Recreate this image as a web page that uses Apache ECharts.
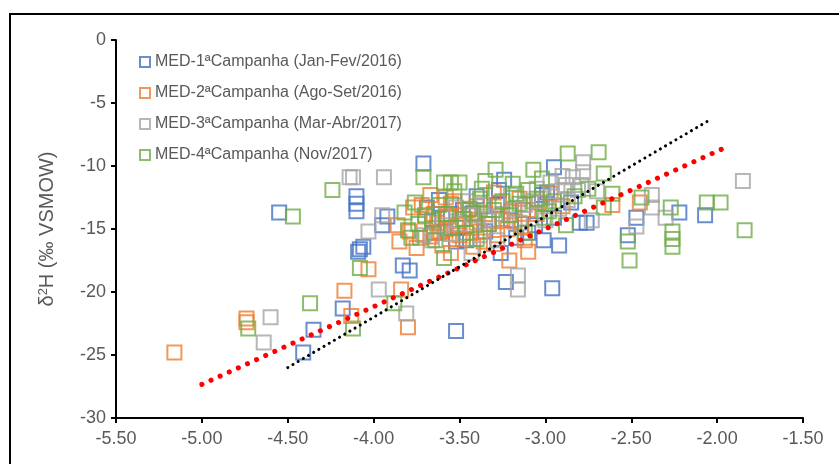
<!DOCTYPE html>
<html>
<head>
<meta charset="utf-8">
<script src="https://cdn.jsdelivr.net/npm/echarts@6/dist/echarts.min.js"></script>
<style>
  html, body { margin: 0; padding: 0; background: #fff; }
  #chart { width: 839px; height: 464px; }
</style>
</head>
<body>
<div id="chart"></div>
<script type="text/javascript">

var seriesNames = ['MED-1ªCampanha (Jan-Fev/2016)', 'MED-2ªCampanha (Ago-Set/2016)',
                   'MED-3ªCampanha (Mar-Abr/2017)', 'MED-4ªCampanha (Nov/2017)'];
var seriesColors = ['#4472C4', '#ED7D31', '#A5A5A5', '#70AD47'];

// [d18O, d2H]
var med1 = [[-4.55,-13.7],[-4.10,-12.4],[-4.10,-13.0],[-4.10,-13.6],[-4.08,-16.6],[-4.06,-16.4],[-4.09,-16.8],
  [-3.71,-9.8],[-3.83,-17.9],[-3.79,-18.3],[-4.18,-21.3],[-4.35,-23.0],[-4.41,-24.8],[-3.52,-23.1],[-2.96,-19.7],
  [-3.23,-19.2],[-3.01,-15.9],[-3.26,-16.9],[-2.47,-14.1],[-2.52,-15.5],[-2.22,-13.7],[-2.07,-13.9],[-2.95,-10.1],
  [-2.76,-14.5],[-3.92,-14.0],[-3.95,-14.7],[-3.69,-13.3],[-3.60,-14.1],[-3.51,-14.9],[-3.43,-13.8],[-3.35,-15.2],
  [-3.28,-13.1],[-3.20,-14.3],[-3.13,-13.5],[-3.02,-12.3],[-2.99,-12.1],[-2.95,-14.1],[-3.06,-14.7],[-3.46,-15.9],
  [-3.17,-15.7],[-3.27,-11.9],[-3.24,-11.1],[-3.52,-16.0],[-3.48,-13.5],[-2.92,-16.3],[-2.80,-14.5],[-3.00,-13.0],
  [-3.62,-12.7],[-3.40,-12.4],[-2.85,-12.9],[-3.55,-13.8],[-3.33,-14.3],[-3.10,-15.3],[-3.65,-15.3]];
var med2 = [[-5.16,-24.8],[-4.74,-22.1],[-4.74,-22.4],[-4.17,-19.9],[-4.13,-21.9],[-4.03,-18.2],[-3.84,-19.8],
  [-3.80,-22.8],[-3.86,-14.7],[-3.77,-13.3],[-3.21,-17.5],[-3.10,-16.8],[-2.61,-13.1],[-2.45,-12.9],[-3.67,-12.3],
  [-3.57,-14.0],[-3.61,-15.2],[-3.51,-14.7],[-3.67,-15.6],[-3.79,-15.2],[-3.30,-12.1],[-3.04,-12.9],[-3.40,-14.5],
  [-3.14,-14.9],[-3.12,-15.9],[-3.73,-15.7],[-3.62,-15.3],[-3.45,-13.5],[-3.35,-13.8],[-3.25,-14.2],[-3.55,-13.0],
  [-3.48,-15.8],[-3.38,-15.2],[-3.28,-15.5],[-3.20,-13.6],[-3.70,-14.0],[-3.60,-16.3],[-3.42,-16.4],[-3.33,-14.6],
  [-3.53,-12.8],[-3.65,-13.8],[-3.10,-13.5],[-2.97,-12.2],[-3.85,-16.0],[-3.58,-15.0],[-3.47,-14.2],[-3.22,-15.0],
  [-3.30,-16.2],[-2.90,-13.2],[-3.75,-16.5],[-3.15,-12.6],[-3.55,-16.9],[-3.63,-14.5],[-3.50,-15.5],[-3.44,-14.9],
  [-3.36,-16.0],[-3.18,-14.4],[-3.05,-13.8],[-3.72,-13.1],[-3.58,-12.5],[-3.27,-12.9],[-3.40,-13.2]];
var med3 = [[-4.60,-22.0],[-4.64,-24.0],[-3.97,-19.8],[-3.81,-21.7],[-4.03,-15.2],[-4.12,-10.9],[-4.14,-10.9],
  [-3.94,-10.9],[-3.95,-13.9],[-3.16,-18.7],[-3.16,-19.8],[-1.85,-11.2],[-2.30,-14.1],[-2.38,-13.3],[-2.47,-14.8],
  [-2.38,-12.3],[-2.73,-14.3],[-2.97,-11.3],[-2.90,-10.8],[-2.81,-11.9],[-2.87,-12.7],[-2.79,-11.5],[-2.78,-9.7],
  [-2.78,-10.5],[-2.84,-10.9],[-3.43,-13.9],[-3.37,-13.1],[-3.31,-14.3],[-3.20,-12.3],[-3.12,-13.1],[-3.66,-15.9],
  [-3.60,-14.7],[-3.52,-13.3],[-3.28,-15.9],[-3.43,-16.9],[-3.71,-15.5],[-3.05,-11.8],[-3.08,-12.8],[-2.92,-13.4],
  [-3.50,-14.6],[-3.15,-14.5],[-2.70,-12.0],[-2.88,-11.5],[-3.00,-14.3],[-3.25,-13.8],[-3.38,-15.5],[-3.55,-15.4],
  [-3.35,-14.0],[-3.18,-13.4],[-3.02,-12.6],[-2.93,-12.0],[-3.45,-12.8]];
var med4 = [[-4.24,-11.9],[-4.47,-14.0],[-4.37,-20.9],[-4.73,-22.9],[-4.12,-22.9],[-4.08,-18.1],[-3.88,-20.9],
  [-3.71,-10.9],[-1.84,-15.1],[-2.06,-12.9],[-1.98,-12.9],[-2.26,-15.2],[-2.26,-15.8],[-2.26,-16.4],[-2.27,-13.3],
  [-2.51,-17.5],[-2.52,-16.0],[-2.69,-8.9],[-2.87,-9.0],[-2.66,-10.6],[-2.61,-12.2],[-2.66,-13.3],[-2.44,-12.5],
  [-3.82,-13.7],[-3.80,-15.1],[-3.78,-15.7],[-3.59,-11.3],[-3.55,-11.3],[-3.50,-11.3],[-3.62,-13.1],[-3.64,-15.9],
  [-3.44,-13.4],[-3.29,-10.3],[-3.07,-10.3],[-3.37,-11.8],[-3.19,-11.4],[-3.42,-13.7],[-3.21,-13.9],[-3.01,-14.1],
  [-3.10,-11.9],[-2.88,-14.7],[-3.59,-17.3],[-3.70,-13.9],[-3.55,-14.9],[-3.46,-15.3],[-3.33,-14.6],[-3.25,-12.8],
  [-3.15,-13.0],[-3.38,-12.6],[-2.95,-12.8],[-2.75,-11.8],[-3.53,-12.0],[-3.12,-15.3],[-3.74,-14.6],[-3.48,-14.2],
  [-3.02,-11.0],[-3.66,-14.3],[-3.40,-15.8],[-3.30,-13.5],[-3.17,-12.2],[-3.05,-12.6],[-2.83,-12.4],[-3.58,-13.8],
  [-3.35,-11.2],[-2.98,-13.6],[-3.76,-12.9]];

// trend lines (end points)
var localLine = [[-5.0,-27.33],[-1.95,-8.52]];
var gmwl = [[-4.5,-26.0],[-2.03,-6.24]];

var chart = echarts.init(document.getElementById('chart'));

var allData = [med1, med2, med3, med4];
var series = [];
for (var i = 0; i < 4; i++) {
    series.push({
        name: seriesNames[i],
        type: 'scatter',
        symbol: 'rect',
        symbolSize: 14,
        itemStyle: {
            color: 'rgba(255,255,255,0)',
            borderColor: seriesColors[i],
            borderWidth: 2
        },
        emphasis: { disabled: true },
        data: allData[i]
    });
}
series.push({
    name: 'local',
    type: 'line',
    showSymbol: false,
    silent: true,
    lineStyle: { color: '#FF0000', width: 5, type: [0.1, 9.9], cap: 'round' },
    data: localLine
});
series.push({
    name: 'gmwl',
    type: 'line',
    showSymbol: false,
    silent: true,
    lineStyle: { color: '#000000', width: 3, type: [0.1, 5.9], cap: 'round' },
    data: gmwl
});

var option = {
    backgroundColor: '#ffffff',
    animation: false,
    textStyle: { fontFamily: 'Liberation Sans, Arial, sans-serif' },
    graphic: [{
        type: 'rect',
        shape: { x: 10, y: 14, width: 900, height: 500 },
        style: { fill: 'none', stroke: '#000', lineWidth: 2 }
    }],
    grid: { left: 116, right: 36, top: 40, bottom: 46, containLabel: false, outerBoundsMode: 'none' },
    legend: {
        data: seriesNames,
        orient: 'vertical',
        left: 134,
        top: 49,
        itemWidth: 10,
        itemHeight: 10,
        itemGap: 15,
        textStyle: { color: '#595959', fontSize: 16 }
    },
    xAxis: {
        type: 'value',
        min: -5.5,
        max: -1.5,
        interval: 0.5,
        name: 'δ{sup|18}O (‰ VSMOW)',
        nameLocation: 'middle',
        nameGap: 47,
        nameTextStyle: {
            color: '#595959', fontSize: 20,
            rich: { sup: { fontSize: 13, verticalAlign: 'top', color: '#595959' } }
        },
        axisLine: { onZero: false, lineStyle: { color: '#000', width: 2 } },
        axisTick: { show: true, length: 5, lineStyle: { color: '#000', width: 2 } },
        axisLabel: {
            color: '#595959', fontSize: 18, margin: 12,
            formatter: function (v) { return v.toFixed(2); }
        },
        splitLine: { show: false }
    },
    yAxis: {
        type: 'value',
        min: -30,
        max: 0,
        interval: 5,
        name: 'δ{sup|2}H (‰ VSMOW)',
        nameLocation: 'middle',
        nameGap: 59,
        nameTextStyle: {
            color: '#595959', fontSize: 20,
            rich: { sup: { fontSize: 13, verticalAlign: 'top', color: '#595959' } }
        },
        axisLine: { onZero: false, lineStyle: { color: '#000', width: 2 } },
        axisTick: { show: true, length: 5, lineStyle: { color: '#000', width: 2 } },
        axisLabel: { color: '#595959', fontSize: 18, margin: 10 },
        splitLine: { show: false }
    },
    series: series
};
chart.setOption(option);
</script>
</body>
</html>
